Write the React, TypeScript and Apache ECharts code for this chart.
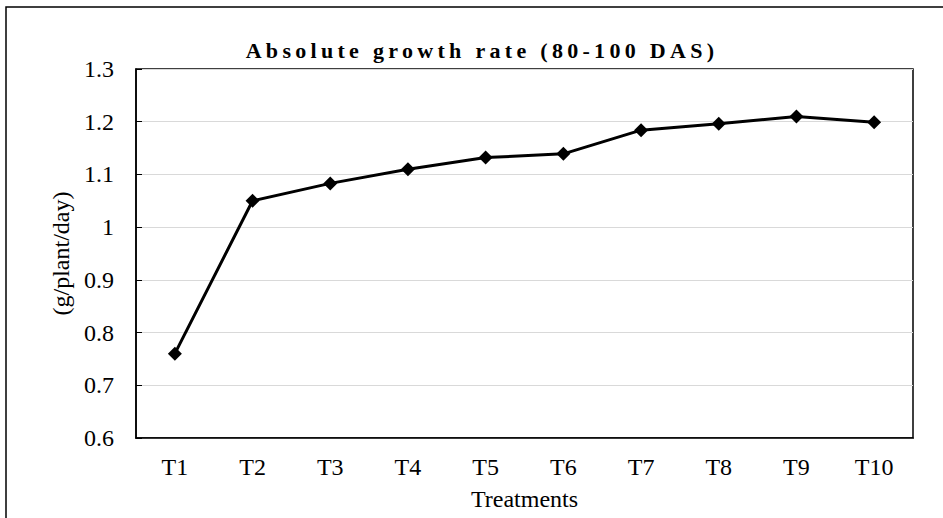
import React, { useEffect, useRef } from "react";
import * as echarts from "echarts";

const titleText = "Absolute growth rate (80-100 DAS)";
const categories = ["T1", "T2", "T3", "T4", "T5", "T6", "T7", "T8", "T9", "T10"];
const values = [0.76, 1.05, 1.083, 1.11, 1.132, 1.139, 1.184, 1.196, 1.21, 1.199];
const yAxisName = "(g/plant/day)";
const xAxisName = "Treatments";

const FONT = '"Liberation Serif", "Times New Roman", serif';

export default function App() {
  const ref = useRef<HTMLDivElement>(null);
  useEffect(() => {
    if (!ref.current) return;
    const chart = echarts.init(ref.current, null, { renderer: "svg" });
    chart.setOption({
      animation: false,
      backgroundColor: "#ffffff",
      title: {
        text: titleText,
        left: 477,
        top: 34,
        textAlign: "center",
        textStyle: { fontFamily: FONT, fontWeight: "bold", fontSize: 22, color: "#000" },
      },
      graphic: [
        {
          type: "rect",
          shape: { x: 6, y: 7, width: 960, height: 540 },
          style: { fill: "none", stroke: "#000", lineWidth: 1.5 },
          silent: true,
        },
      ],
      grid: {
        left: 136,
        right: 30,
        top: 69,
        bottom: 80,
        show: true,
        borderColor: "#000",
        borderWidth: 1.5,
        backgroundColor: "transparent",
      },
      xAxis: {
        type: "category",
        data: categories,
        boundaryGap: true,
        name: xAxisName,
        nameLocation: "middle",
        nameGap: 49,
        nameTextStyle: { fontFamily: FONT, fontSize: 24, color: "#000" },
        axisLine: { lineStyle: { color: "#000", width: 1.5 } },
        axisTick: { inside: true, alignWithLabel: true, length: 6, lineStyle: { color: "#000", width: 1 } },
        axisLabel: { fontFamily: FONT, fontSize: 24, color: "#000", margin: 17 },
        splitLine: { show: false },
      },
      yAxis: {
        type: "value",
        min: 0.6,
        max: 1.3,
        interval: 0.1,
        name: yAxisName,
        nameLocation: "middle",
        nameGap: 60,
        nameTextStyle: { fontFamily: FONT, fontSize: 24, color: "#000" },
        axisLine: { show: true, lineStyle: { color: "#000", width: 1.5 } },
        axisTick: { show: true, inside: true, length: 6, lineStyle: { color: "#000", width: 1 } },
        axisLabel: {
          fontFamily: FONT,
          fontSize: 24,
          color: "#000",
          margin: 22,
          formatter: (v: number) => String(Math.round(v * 10) / 10),
        },
        splitLine: { show: true, lineStyle: { color: "#d9d9d9", width: 1.2 } },
      },
      series: [
        {
          type: "line",
          data: values,
          symbol: "diamond",
          symbolSize: 14,
          silent: true,
          lineStyle: { color: "#000", width: 3 },
          itemStyle: { color: "#000" },
          emphasis: { disabled: true },
        },
      ],
    });
    // add letter spacing to the title, as in the reference
    const texts = ref.current.querySelectorAll("text");
    texts.forEach((t) => {
      if (t.textContent === titleText) {
        t.setAttribute("letter-spacing", "4.3px");
      }
    });
    return () => chart.dispose();
  }, []);
  return (
    <div
      ref={ref}
      style={{ position: "fixed", left: 0, top: 0, width: 943, height: 518 }}
    />
  );
}
